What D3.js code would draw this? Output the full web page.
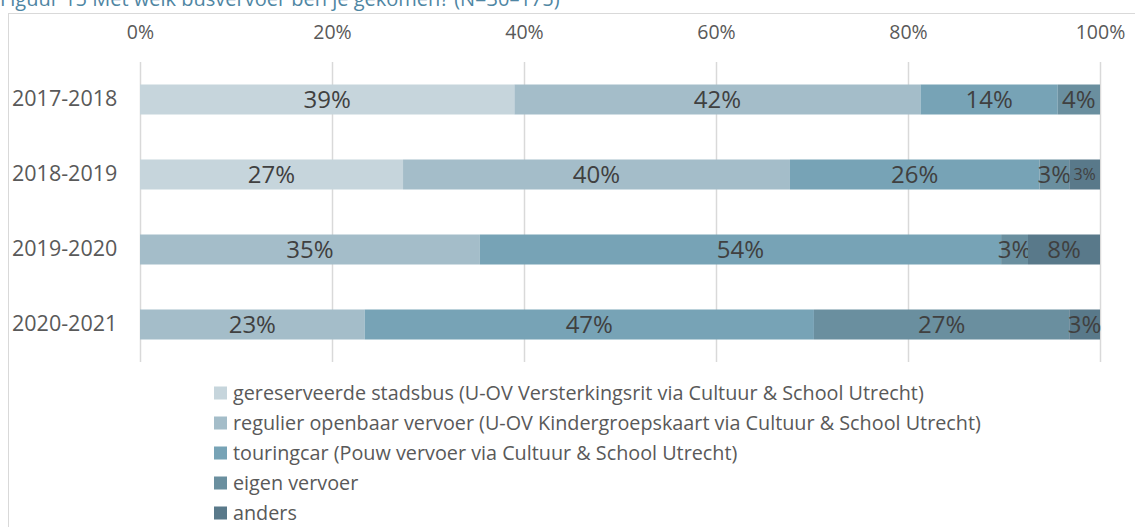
<!DOCTYPE html>
<html>

<head>
  <meta charset="utf-8">
  <title>Busvervoer</title>
  <script src="https://d3js.org/d3.v7.min.js"></script>
  <style>
    body { margin: 0; background: #fff; }
    text { font-family: "Open Sans", "Noto Sans", sans-serif; }
  </style>
</head>

<body>

  <script>
    var width = 1135;
    var height = 527;

    // data
    var years = ["2017-2018", "2018-2019", "2019-2020", "2020-2021"];
    var seriesNames = [
      "gereserveerde stadsbus (U-OV Versterkingsrit via Cultuur & School Utrecht)",
      "regulier openbaar vervoer (U-OV Kindergroepskaart via Cultuur & School Utrecht)",
      "touringcar (Pouw vervoer via Cultuur & School Utrecht)",
      "eigen vervoer",
      "anders"
    ];
    var stadsbus = [39.0, 27.4, 0, 0];
    var regulier = [42.3, 40.3, 35.4, 23.4];
    var touringcar = [14.3, 26.0, 54.3, 46.8];
    var eigen = [4.4, 3.1, 2.8, 26.6];
    var anders = [0, 3.2, 7.5, 3.2];
    var tickValues = [0, 20, 40, 60, 80, 100];
    var colors = ["#c6d5dc", "#a4bdc9", "#77a3b6", "#6a8f9f", "#59798a"];
    // labels drawn in a smaller font (year + series index)
    var smallLabels = ["2018-2019|4"];

    var series = [stadsbus, regulier, touringcar, eigen, anders];

    var rows = years.map(function (y, i) {
      var row = { year: y };
      series.forEach(function (s, k) { row["s" + k] = s[i]; });
      return row;
    });
    var keys = series.map(function (s, k) { return "s" + k; });
    var stacked = d3.stack().keys(keys)(rows);

    var svg = d3.select("body").append("svg").attr("width", width).attr("height", height);

    // chart frame
    svg.append("rect")
      .attr("x", 8.5).attr("y", 13.5)
      .attr("width", 1140).attr("height", 530)
      .attr("fill", "none").attr("stroke", "#d9d9d9");

    svg.append("text")
      .attr("x", 0).attr("y", 6)
      .attr("font-size", 20)
      .attr("fill", "#4f86a3")
      .text("Figuur 15 Met welk busvervoer ben je gekomen? (N=30–175)");

    var x = d3.scaleLinear().domain([0, 100]).range([140, 1100]);
    var y = d3.scaleBand().domain(years).range([62, 362]).paddingInner(0.6).paddingOuter(0.3);

    // grid
    svg.append("g").selectAll("line")
      .data(tickValues)
      .enter().append("line")
      .attr("x1", function (d) { return Math.round(x(d)) + 0.5; })
      .attr("x2", function (d) { return Math.round(x(d)) + 0.5; })
      .attr("y1", 62).attr("y2", 362)
      .attr("stroke", "#d9d9d9").attr("stroke-width", 1.5);

    var xAxis = d3.axisTop(x).tickValues(tickValues).tickSize(0).tickPadding(0)
      .tickFormat(function (d) { return d + "%"; });
    var gX = svg.append("g").attr("transform", "translate(0,39)").call(xAxis);
    gX.select(".domain").remove();
    gX.selectAll("text")
      .attr("font-size", 19.5).attr("fill", "#595959")
      .style("font-family", "'Open Sans', sans-serif");

    var yAxis = d3.axisLeft(y).tickSize(0).tickPadding(0);
    var gY = svg.append("g").attr("transform", "translate(12,0)").call(yAxis);
    gY.select(".domain").remove();
    gY.selectAll("text")
      .attr("text-anchor", "start")
      .attr("font-size", 21.5).attr("fill", "#595959")
      .style("font-family", "'Open Sans', sans-serif");

    // bars
    var layers = svg.append("g").selectAll("g")
      .data(stacked)
      .enter().append("g")
      .attr("fill", function (d, i) { return colors[i]; });

    layers.selectAll("rect")
      .data(function (d) { return d; })
      .enter().append("rect")
      .attr("x", function (d) { return x(d[0]); })
      .attr("width", function (d) { return x(d[1]) - x(d[0]); })
      .attr("y", function (d) { return y(d.data.year); })
      .attr("height", y.bandwidth());

    // labels
    layers.each(function (layer, k) {
      d3.select(this).selectAll("text")
        .data(layer.filter(function (p) { return p[1] - p[0] > 0; }))
        .enter().append("text")
        .attr("x", function (d) { return x((d[0] + d[1]) / 2); })
        .attr("y", function (d) { return y(d.data.year) + y.bandwidth() / 2; })
        .attr("dy", "0.36em")
        .attr("text-anchor", "middle")
        .attr("fill", "#404040")
        .attr("font-size", function (d) {
          return smallLabels.indexOf(d.data.year + "|" + k) >= 0 ? 16 : 24;
        })
        .text(function (d) { return Math.round(d[1] - d[0]) + "%"; });
    });

    // legend
    var legend = svg.append("g").selectAll("g")
      .data(seriesNames)
      .enter().append("g")
      .attr("transform", function (d, i) { return "translate(214," + (393 + i * 30) + ")"; });

    legend.append("rect")
      .attr("x", 0).attr("y", -6.5)
      .attr("width", 13).attr("height", 13)
      .attr("fill", function (d, i) { return colors[i]; });

    legend.append("text")
      .attr("x", 19).attr("dy", "0.35em")
      .attr("font-size", 19.8).attr("fill", "#595959")
      .text(function (d) { return d; });
  </script>

</body>

</html>
